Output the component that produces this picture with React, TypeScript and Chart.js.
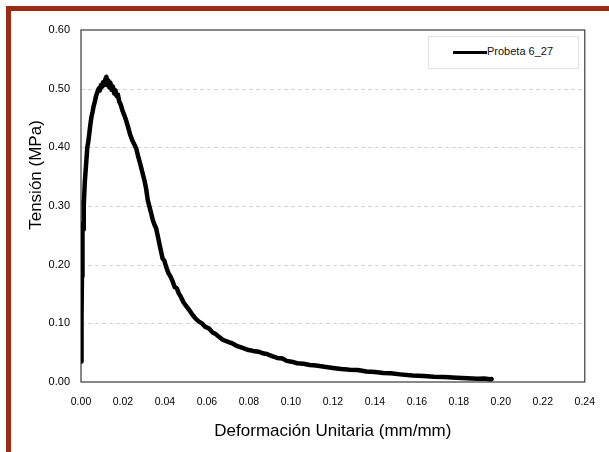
import React, { useEffect, useRef } from "react";
import { Chart, registerables } from "chart.js";

Chart.register(...registerables);

const strain = [
  0.0, 0.0002, 0.0003, 0.0005, 0.0006, 0.0008, 0.001, 0.0012, 0.0014, 0.0018,
  0.0022, 0.0026, 0.003, 0.0035, 0.004, 0.0045, 0.005, 0.0055, 0.006, 0.0066,
  0.0072, 0.0078, 0.0084, 0.009, 0.0095, 0.01, 0.0105, 0.011, 0.0115, 0.0121,
  0.0126, 0.013, 0.0135, 0.014, 0.0146, 0.0152, 0.0158, 0.0164, 0.017, 0.0176,
  0.0182, 0.019, 0.0198, 0.0206, 0.0214, 0.0224, 0.0234, 0.0244, 0.0254, 0.0263,
  0.0272, 0.0282, 0.0292, 0.0302, 0.031, 0.0318, 0.0326, 0.0334, 0.0342, 0.035,
  0.0358, 0.0368, 0.0378, 0.0389, 0.0397, 0.0406, 0.0416, 0.0426, 0.0436, 0.0446,
  0.0456, 0.0466, 0.0476, 0.0488, 0.05, 0.0515, 0.053, 0.0546, 0.0562, 0.0576,
  0.0592, 0.0609, 0.0625, 0.0641, 0.0657, 0.0675, 0.0698, 0.072, 0.0745, 0.077,
  0.0798, 0.082, 0.0846, 0.0865, 0.0885, 0.091, 0.0935, 0.096, 0.098, 0.1003,
  0.103, 0.106, 0.109, 0.112, 0.116, 0.12, 0.124, 0.128, 0.1318, 0.136,
  0.14, 0.144, 0.1475, 0.152, 0.158, 0.1633, 0.168, 0.173, 0.179, 0.184,
  0.189, 0.192, 0.1948, 0.1956,
];

const stress = [
  0.035, 0.13, 0.11, 0.2, 0.18, 0.27, 0.26, 0.31, 0.3, 0.34,
  0.36, 0.38, 0.4, 0.41, 0.425, 0.44, 0.452, 0.46, 0.47, 0.478,
  0.488, 0.494, 0.5, 0.497, 0.506, 0.503, 0.511, 0.506, 0.515, 0.52,
  0.506, 0.514, 0.502, 0.51, 0.498, 0.504, 0.492, 0.497, 0.487, 0.49,
  0.478, 0.472, 0.462, 0.455, 0.447, 0.435, 0.422, 0.412, 0.405, 0.398,
  0.385, 0.372, 0.358, 0.344, 0.33, 0.31, 0.299, 0.288, 0.276, 0.268,
  0.262, 0.245, 0.228, 0.21, 0.207, 0.196, 0.186, 0.18, 0.172, 0.162,
  0.16, 0.151, 0.145, 0.136, 0.13, 0.123, 0.115, 0.108, 0.103, 0.1,
  0.094, 0.0915, 0.085, 0.082, 0.077, 0.072, 0.069, 0.066, 0.061, 0.058,
  0.0545, 0.053, 0.0517, 0.049, 0.0477, 0.044, 0.041, 0.04, 0.036, 0.0346,
  0.032, 0.031, 0.029, 0.028, 0.026, 0.024, 0.022, 0.021, 0.0205, 0.018,
  0.017, 0.0155, 0.0148, 0.013, 0.011, 0.0102, 0.009, 0.0085, 0.0073, 0.0065,
  0.0055, 0.0058, 0.0046, 0.005,
];

const xTicks = [0, 0.02, 0.04, 0.06, 0.08, 0.1, 0.12, 0.14, 0.16, 0.18, 0.2, 0.22, 0.24];
const yTicks = [0, 0.1, 0.2, 0.3, 0.4, 0.5, 0.6];

const seriesName = "Probeta 6_27";
const xTitle = "Deformación Unitaria (mm/mm)";
const yTitle = "Tensión (MPa)";

const FONT = "'Liberation Sans', Arial, sans-serif";

export default function App() {
  const ref = useRef<HTMLCanvasElement | null>(null);

  useEffect(() => {
    if (!ref.current) return;
    const points = strain.map((x, i) => ({ x, y: stress[i] }));

    const framePlugin = {
      id: "frameAndTitle",
      beforeDatasetsDraw(chart: any) {
        const { ctx, chartArea } = chart;
        const ys = chart.scales.y;
        ctx.save();
        ctx.strokeStyle = "#d4d4d4";
        ctx.lineWidth = 1;
        ctx.setLineDash([4, 3]);
        yTicks.forEach((v) => {
          if (v === 0 || v === 0.6) return;
          const py = Math.round(ys.getPixelForValue(v)) + 0.5;
          ctx.beginPath();
          ctx.moveTo(chartArea.left, py);
          ctx.lineTo(chartArea.right, py);
          ctx.stroke();
        });
        ctx.setLineDash([]);
        ctx.strokeStyle = "#3a3a3a";
        ctx.lineWidth = 1.2;
        ctx.strokeRect(chartArea.left, chartArea.top, chartArea.right - chartArea.left, chartArea.bottom - chartArea.top);
        ctx.restore();
      },
      afterDraw(chart: any) {
        const { ctx } = chart;
        ctx.save();
        ctx.translate(36, 175);
        ctx.rotate(-Math.PI / 2);
        ctx.font = `17px ${FONT}`;
        ctx.fillStyle = "#000";
        ctx.textAlign = "center";
        ctx.textBaseline = "middle";
        ctx.fillText(yTitle, 0, 0);
        ctx.restore();
      },
    };

    const chart = new Chart(ref.current, {
      type: "scatter",
      data: {
        datasets: [
          {
            label: seriesName,
            data: points,
            showLine: true,
            borderColor: "#000",
            backgroundColor: "#000",
            borderWidth: 4.5,
            pointRadius: 0,
            tension: 0,
            borderJoinStyle: "round",
            borderCapStyle: "round",
          },
        ],
      },
      options: {
        animation: false,
        responsive: false,
        maintainAspectRatio: false,
        layout: { padding: { top: 30, right: 20, left: 0, bottom: 0 } },
        plugins: {
          legend: { display: false },
          tooltip: { enabled: false },
        },
        scales: {
          x: {
            type: "linear",
            min: 0,
            max: 0.24,
            afterFit: (s: any) => {
              s.height = 70;
            },
            afterBuildTicks: (s: any) => {
              s.ticks = xTicks.map((v) => ({ value: v }));
            },
            grid: { display: false, drawTicks: false },
            border: { display: false },
            ticks: {
              padding: 14,
              color: "#000",
              font: { family: FONT, size: 10.5 },
              maxRotation: 0,
              autoSkip: false,
              callback: (v: any) => Number(v).toFixed(2),
            },
            title: {
              display: true,
              text: xTitle,
              color: "#000",
              font: { family: FONT, size: 17 },
              padding: { top: 0, bottom: 10 },
            },
          },
          y: {
            type: "linear",
            min: 0,
            max: 0.6,
            afterFit: (s: any) => {
              s.width = 81;
            },
            afterBuildTicks: (s: any) => {
              s.ticks = yTicks.map((v) => ({ value: v }));
            },
            grid: { display: false, drawTicks: false },
            border: { display: false },
            ticks: {
              padding: 11,
              color: "#000",
              font: { family: FONT, size: 11 },
              autoSkip: false,
              callback: (v: any) => Number(v).toFixed(2),
            },
            title: { display: false },
          },
        },
      },
      plugins: [framePlugin],
    } as any);

    return () => chart.destroy();
  }, []);

  return (
    <div style={{ position: "absolute", left: 0, top: 0, width: 609, height: 452, overflow: "hidden", background: "#fff" }}>
      <div
        style={{
          position: "absolute",
          left: 6,
          top: 6,
          width: 620,
          height: 442,
          borderLeft: "5px solid #9b2a16",
          borderTop: "5px solid #9b2a16",
          borderBottom: "2px solid #e8dcd2",
          boxSizing: "content-box",
        }}
      />
      <canvas ref={ref} width={609} height={452} style={{ position: "absolute", left: 0, top: 0, width: 609, height: 452 }} />
      <div
        style={{
          position: "absolute",
          left: 428,
          top: 36,
          width: 149,
          height: 31,
          border: "1px solid #e2e2e2",
          background: "#fff",
          fontFamily: FONT,
        }}
      >
        <div style={{ position: "absolute", left: 24, top: 14, width: 34, height: 3, background: "#000" }} />
        <div style={{ position: "absolute", left: 58, top: 8, fontSize: 11, lineHeight: "13px", color: "#111", whiteSpace: "nowrap" }}>
          {seriesName}
        </div>
      </div>
    </div>
  );
}
